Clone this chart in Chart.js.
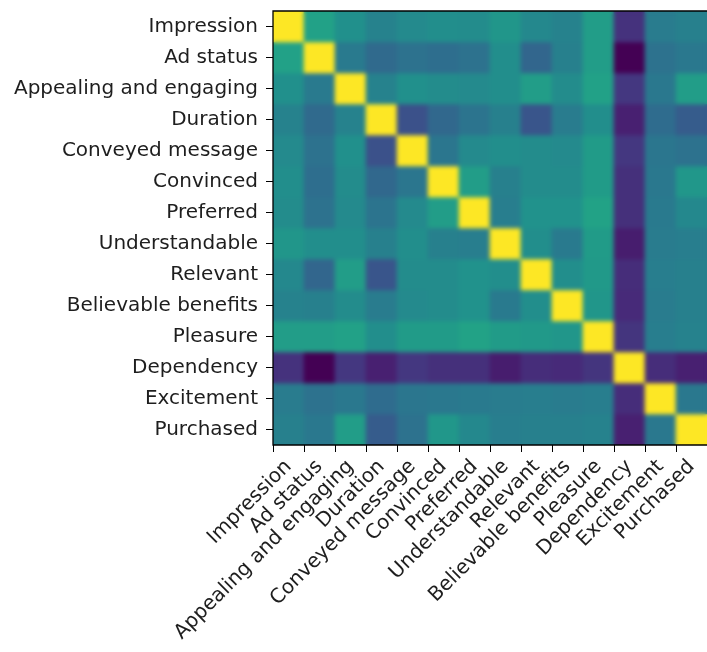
<!DOCTYPE html>
<html>
<head>
<meta charset="utf-8">
<script src="https://cdn.jsdelivr.net/npm/chart.js@4/dist/chart.umd.min.js"></script>
<style>
  html, body { margin: 0; padding: 0; background: #ffffff; }
  #wrap { width: 707px; height: 652px; }
</style>
</head>
<body>
<div id="wrap"><canvas id="heat" width="707" height="652"></canvas></div>
<script>
// Survey attributes (rows and columns share the same order)
const attributes = [
  'Impression', 'Ad status', 'Appealing and engaging', 'Duration',
  'Conveyed message', 'Convinced', 'Preferred', 'Understandable',
  'Relevant', 'Believable benefits', 'Pleasure', 'Dependency',
  'Excitement', 'Purchased'
];

// Pairwise correlation coefficients, one row per attribute
const rowImpression = [1.00, 0.46, 0.37, 0.30, 0.34, 0.36, 0.35, 0.40, 0.33, 0.30, 0.44, -0.07, 0.27, 0.29];
const rowAdStatus   = [0.46, 1.00, 0.26, 0.18, 0.22, 0.20, 0.22, 0.36, 0.16, 0.29, 0.44, -0.25, 0.22, 0.25];
const rowAppealing  = [0.37, 0.26, 1.00, 0.30, 0.37, 0.35, 0.34, 0.36, 0.44, 0.35, 0.46, -0.05, 0.25, 0.44];
const rowDuration   = [0.30, 0.18, 0.30, 1.00, 0.06, 0.17, 0.23, 0.29, 0.08, 0.27, 0.36, -0.14, 0.19, 0.11];
const rowConveyed   = [0.34, 0.22, 0.37, 0.06, 1.00, 0.24, 0.34, 0.36, 0.35, 0.34, 0.43, -0.05, 0.24, 0.22];
const rowConvinced  = [0.36, 0.20, 0.35, 0.17, 0.24, 1.00, 0.44, 0.29, 0.35, 0.35, 0.43, -0.08, 0.25, 0.41];
const rowPreferred  = [0.35, 0.22, 0.34, 0.23, 0.34, 0.44, 1.00, 0.28, 0.38, 0.38, 0.47, -0.08, 0.26, 0.33];
const rowUnderstand = [0.40, 0.36, 0.36, 0.29, 0.36, 0.29, 0.28, 1.00, 0.36, 0.26, 0.43, -0.15, 0.27, 0.28];
const rowRelevant   = [0.33, 0.16, 0.44, 0.08, 0.35, 0.35, 0.38, 0.36, 1.00, 0.36, 0.42, -0.09, 0.28, 0.29];
const rowBelievable = [0.30, 0.29, 0.35, 0.27, 0.34, 0.35, 0.38, 0.26, 0.36, 1.00, 0.40, -0.10, 0.27, 0.29];
const rowPleasure   = [0.44, 0.44, 0.46, 0.36, 0.43, 0.43, 0.47, 0.43, 0.42, 0.40, 1.00, -0.06, 0.28, 0.30];
const rowDependency = [-0.07, -0.25, -0.05, -0.14, -0.05, -0.08, -0.08, -0.15, -0.09, -0.10, -0.06, 1.00, -0.09, -0.14];
const rowExcitement = [0.27, 0.22, 0.25, 0.19, 0.24, 0.25, 0.26, 0.27, 0.28, 0.27, 0.28, -0.09, 1.00, 0.25];
const rowPurchased  = [0.29, 0.25, 0.44, 0.11, 0.22, 0.41, 0.33, 0.28, 0.29, 0.29, 0.30, -0.14, 0.25, 1.00];

const matrixRows = [
  rowImpression, rowAdStatus, rowAppealing, rowDuration, rowConveyed,
  rowConvinced, rowPreferred, rowUnderstand, rowRelevant, rowBelievable,
  rowPleasure, rowDependency, rowExcitement, rowPurchased
];

// Viridis colour stops (evenly spaced from 0 to 1)
const viridisStops = [
  '#440154', '#482475', '#414487', '#355f8d', '#2a788e', '#21918c',
  '#22a884', '#44bf70', '#7ad151', '#bddf26', '#fde725'
];

function hexToRgb(h) {
  const n = parseInt(h.slice(1), 16);
  return [(n >> 16) & 255, (n >> 8) & 255, n & 255];
}
function viridis(t) {
  t = Math.max(0, Math.min(1, t));
  const pos = t * (viridisStops.length - 1);
  const i = Math.min(Math.floor(pos), viridisStops.length - 2);
  const f = pos - i;
  const a = hexToRgb(viridisStops[i]), b = hexToRgb(viridisStops[i + 1]);
  const c = a.map((v, k) => Math.round(v + (b[k] - v) * f));
  return `rgb(${c[0]},${c[1]},${c[2]})`;
}

const allValues = matrixRows.flat();
const vMin = Math.min(...allValues);
const vMax = Math.max(...allValues);

// One floating-bar dataset per row: each bar spans its row band [i-0.5, i+0.5]
const datasets = matrixRows.map((row, i) => ({
  label: attributes[i],
  data: row.map(() => [i - 0.5, i + 0.5]),
  backgroundColor: row.map(v => viridis((v - vMin) / (vMax - vMin))),
  borderWidth: 0,
  barPercentage: 1.0,
  categoryPercentage: 1.0,
  grouped: false
}));

const labelFont = { family: 'DejaVu Sans', size: 20 };
const textColor = '#1e1e1e';

// Slight smoothing of the cell image, plus the frame around the plot
const heatSmoothing = {
  id: 'heatSmoothing',
  afterDatasetsDraw(chart) {
    const { ctx, chartArea: a } = chart;
    const w = Math.round(a.right - a.left), h = Math.round(a.bottom - a.top);
    const off = document.createElement('canvas');
    off.width = w; off.height = h;
    off.getContext('2d').drawImage(chart.canvas, a.left, a.top, w, h, 0, 0, w, h);
    ctx.save();
    ctx.beginPath();
    ctx.rect(a.left, a.top, w, h);
    ctx.clip();
    ctx.filter = 'blur(2px)';
    ctx.drawImage(off, a.left, a.top);
    ctx.restore();
  },
  afterDraw(chart) {
    const { ctx, chartArea: a } = chart;
    ctx.save();
    ctx.strokeStyle = '#000';
    ctx.lineWidth = 1.3;
    ctx.beginPath();
    ctx.moveTo(a.right, a.top);
    ctx.lineTo(a.left, a.top);
    ctx.lineTo(a.left, a.bottom);
    ctx.lineTo(a.right, a.bottom);
    ctx.stroke();
    ctx.restore();
  }
};

new Chart(document.getElementById('heat'), {
  type: 'bar',
  data: { labels: attributes, datasets },
  options: {
    responsive: false,
    devicePixelRatio: 1,
    animation: false,
    layout: { padding: { top: 11, left: 0, right: 0, bottom: 0 } },
    plugins: { legend: { display: false }, tooltip: { enabled: false } },
    scales: {
      x: {
        type: 'category',
        offset: true,
        grid: { display: true, drawOnChartArea: false, drawTicks: true, tickLength: 7, tickColor: '#000', lineWidth: 1 },
        border: { display: false },
        ticks: {
          autoSkip: false, minRotation: 45, maxRotation: 45,
          font: labelFont, color: textColor, padding: 3
        },
        afterFit(axis) {
          axis.height = 207;
          axis.paddingLeft = 0; axis.paddingRight = 0;
        }
      },
      y: {
        type: 'linear',
        reverse: true,
        min: -0.5,
        max: 13.5,
        afterBuildTicks(axis) {
          axis.ticks = attributes.map((_, i) => ({ value: i }));
        },
        grid: { display: true, drawOnChartArea: false, drawTicks: true, tickLength: 7, tickColor: '#000', lineWidth: 1 },
        border: { display: false },
        ticks: {
          font: labelFont, color: textColor, padding: 8,
          callback: (v) => attributes[v] ?? ''
        },
        afterFit(axis) {
          axis.width = 273;
          axis.paddingTop = 0; axis.paddingBottom = 0;
        }
      }
    }
  },
  plugins: [heatSmoothing]
});
</script>
</body>
</html>
